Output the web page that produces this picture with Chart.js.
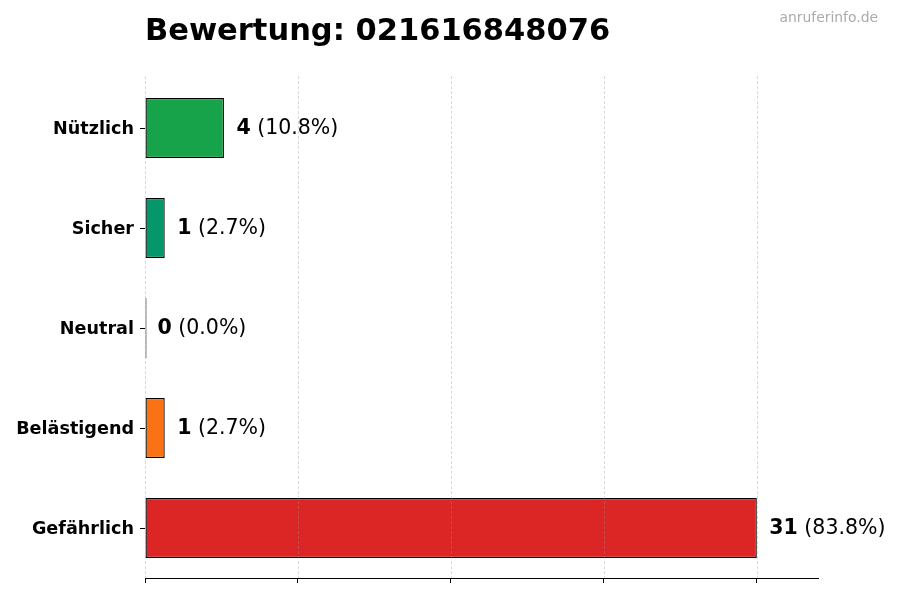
<!DOCTYPE html>
<html>
<head>
<meta charset="utf-8">
<script src="https://cdn.jsdelivr.net/npm/chart.js@4/dist/chart.umd.min.js"></script>
<style>
  html, body { margin: 0; padding: 0; background: #fff; }
  #wrap { width: 900px; height: 600px; }
</style>
</head>
<body>
<div id="wrap"><canvas id="c" width="900" height="600"></canvas></div>
<script>
const categories = ['Nützlich', 'Sicher', 'Neutral', 'Belästigend', 'Gefährlich'];
const counts = [4, 1, 0, 1, 31];
const barColors = ['#16a34a', '#059669', '#6b7280', '#f97316', '#dc2626'];
const xTicks = [0, 7.75, 15.5, 23.25, 31];
const xMax = 34.1;
const titleText = 'Bewertung: 021616848076';
const watermark = 'anruferinfo.de';

const FONT = "'DejaVu Sans', sans-serif";
const total = counts.reduce((a, b) => a + b, 0);

const gridOverPlugin = {
  id: 'gridOver',
  afterDatasetsDraw(chart) {
    const ctx = chart.ctx, area = chart.chartArea, xs = chart.scales.x;
    ctx.save();
    ctx.strokeStyle = 'rgba(150,150,150,0.45)';
    ctx.lineWidth = 0.8;
    ctx.setLineDash([3, 2]);
    xs.ticks.forEach(t => {
      const x = Math.round(xs.getPixelForValue(t.value)) + 0.5;
      ctx.beginPath();
      ctx.moveTo(x, area.top - 2);
      ctx.lineTo(x, area.bottom);
      ctx.stroke();
    });
    ctx.restore();
  }
};

const valueLabelPlugin = {
  id: 'valueLabels',
  afterDatasetsDraw(chart) {
    const ctx = chart.ctx;
    const meta = chart.getDatasetMeta(0);
    const xs = chart.scales.x;
    ctx.save();
    ctx.textBaseline = 'middle';
    ctx.textAlign = 'left';
    ctx.fillStyle = '#000';
    meta.data.forEach((bar, i) => {
      const v = counts[i];
      const x = xs.getPixelForValue(v) + 12.5;
      const y = bar.y + 1;
      ctx.font = 'bold 20.5px ' + FONT;
      const s1 = String(v);
      ctx.fillText(s1, x, y);
      const w1 = ctx.measureText(s1).width;
      ctx.font = '20.5px ' + FONT;
      ctx.fillText(' (' + (v / total * 100).toFixed(1) + '%)', x + w1, y);
    });
    ctx.restore();
  }
};

const watermarkPlugin = {
  id: 'watermark',
  afterDraw(chart) {
    const ctx = chart.ctx;
    ctx.save();
    ctx.font = '13.9px ' + FONT;
    ctx.fillStyle = '#aaaaaa';
    ctx.textAlign = 'right';
    ctx.textBaseline = 'middle';
    ctx.fillText(watermark, 878, 18);
    ctx.restore();
  }
};

new Chart(document.getElementById('c'), {
  type: 'bar',
  data: {
    labels: categories,
    datasets: [{
      data: counts,
      backgroundColor: barColors,
      borderColor: '#000',
      borderWidth: 1.3,
      borderSkipped: false,
      barPercentage: 0.6,
      categoryPercentage: 1.0,
      minBarLength: 1.5
    }]
  },
  options: {
    indexAxis: 'y',
    responsive: false,
    animation: false,
    devicePixelRatio: 1,
    layout: { padding: { left: 0, right: 82, top: 0, bottom: 0 } },
    plugins: {
      legend: { display: false },
      tooltip: { enabled: false },
      title: {
        display: true,
        text: titleText,
        align: 'start',
        fullSize: false,
        color: '#000',
        font: { family: FONT, size: 30.5, weight: 'bold', lineHeight: 1.2 },
        padding: { top: 14, bottom: 27.4 }
      }
    },
    scales: {
      x: {
        type: 'linear',
        min: 0,
        max: xMax,
        afterBuildTicks(scale) { scale.ticks = xTicks.map(v => ({ value: v })); },
        afterFit(scale) { scale.height = 22; },
        border: { display: true, color: '#000', width: 1 },
        grid: { drawOnChartArea: false, drawTicks: true, tickLength: 5, tickColor: '#000', tickWidth: 1 },
        ticks: { callback: () => '', padding: 0 }
      },
      y: {
        type: 'category',
        offset: true,
        afterFit(scale) { scale.width = 145; },
        border: { display: false },
        grid: { drawOnChartArea: false, drawTicks: true, tickLength: 5, tickColor: '#000', tickWidth: 1, offset: false },
        ticks: { color: '#000', padding: 6, labelOffset: 1, font: { family: FONT, size: 17.6, weight: 'bold' } }
      }
    }
  },
  plugins: [gridOverPlugin, valueLabelPlugin, watermarkPlugin]
});
</script>
</body>
</html>
